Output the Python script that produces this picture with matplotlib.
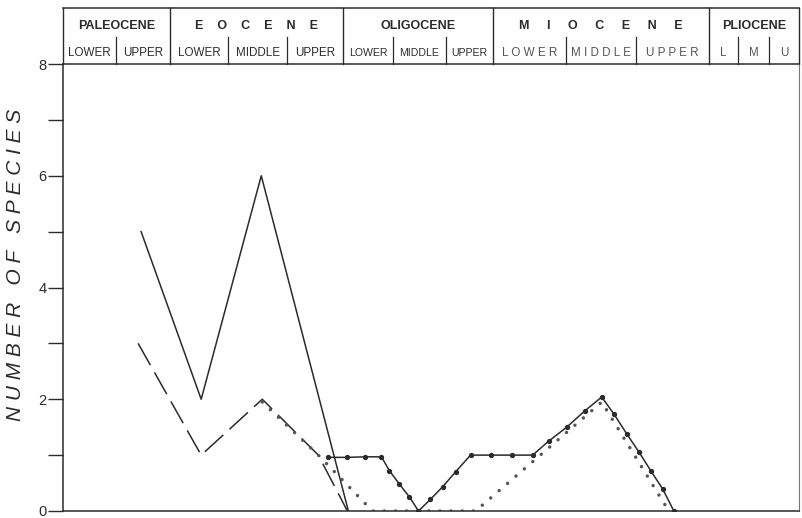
import matplotlib
matplotlib.use("Agg")
import matplotlib.pyplot as plt
from matplotlib.transforms import blended_transform_factory

plt.rcParams['font.family'] = ['Liberation Sans', 'DejaVu Sans']
plt.rcParams['lines.scale_dashes'] = False

# Horizontal position along the time scale (arbitrary drawing units)
stage_edges = [0, 53, 107, 165, 224, 280, 330, 382, 429, 502, 572, 645, 674, 705, 735]
stage_labels = ["LOWER", "UPPER", "LOWER", "MIDDLE", "UPPER", "LOWER", "MIDDLE", "UPPER",
                "L O W E R", "M I D D L E", "U P P E R", "L", "M", "U"]
epoch_edges = [0, 107, 280, 429, 645, 735]
epoch_labels = ["PALEOCENE", "E    O    C    E    N    E", "OLIGOCENE",
                "M     I     O     C     E     N     E", "PLIOCENE"]

# Species counts through time
solid_x = [78, 138, 198, 285]
solid_y = [5, 2, 6, 0]

dashed_x = [75, 138, 199, 255, 284]
dashed_y = [3, 1, 2, 1, 0]

dotted_x = [199, 255, 309, 412, 538, 605]
dotted_y = [1.95, 1.0, 0, 0, 1.95, 0]

dotline_x = [265, 284, 302, 318, 326, 336, 346, 355, 367, 379, 392, 407, 427, 448, 469,
             485, 503, 521, 538, 550, 563, 575, 587, 599, 610]
dotline_y = [0.96, 0.96, 0.97, 0.97, 0.72, 0.48, 0.25, 0, 0.21, 0.43, 0.70, 1.0, 1.0, 1.0, 1.0,
             1.25, 1.5, 1.79, 2.04, 1.74, 1.38, 1.06, 0.72, 0.39, 0.0]

ink = "#2b2b2b"

fig = plt.figure(figsize=(8.02, 5.18), dpi=100)
ax = fig.add_axes([63 / 802, 1 - 511 / 518, 736 / 802, 447 / 518])

ax.plot(solid_x, solid_y, color=ink, lw=1.1)
ax.plot(dashed_x, dashed_y, color=ink, lw=1.1, dashes=(18, 6))
ax.plot(dotted_x, dotted_y, color="#555555", lw=2.5, dashes=(0.01, 8.0),
        dash_capstyle='round', solid_capstyle='round')
ax.plot(dotline_x, dotline_y, color=ink, lw=1.1, marker='o', markersize=2.8,
        markerfacecolor=ink, markeredgecolor=ink)

ax.set_xlim(stage_edges[0], stage_edges[-1])
ax.set_ylim(0, 8)
ax.set_xticks([])
ax.set_yticks([0, 2, 4, 6, 8])
ax.set_yticks([1, 3, 5, 7], minor=True)
ax.tick_params(axis='y', which='both', direction='out', length=11, width=1.0,
               color=ink, labelsize=10.5, labelcolor=ink, pad=1)
for side in ['left', 'bottom', 'top']:
    ax.spines[side].set_color(ink)
    ax.spines[side].set_linewidth(1.1)
ax.spines['right'].set_color("#777777")
ax.spines['right'].set_linewidth(0.8)

ax.text(-0.064, 0.55, "N U M B E R   O F   S P E C I E S", transform=ax.transAxes,
        rotation=90, ha='center', va='center', fontsize=15, style='italic', color=ink)

# Geologic time-scale header above the plot
tr = blended_transform_factory(ax.transData, ax.transAxes)
top = 1.125
row = 1.06
ax.plot([stage_edges[0], stage_edges[-1]], [top, top], transform=tr, color=ink, lw=1.1,
        clip_on=False)
for e in epoch_edges:
    ax.plot([e, e], [1.0, top], transform=tr, color=ink, lw=1.0, clip_on=False)
for e in stage_edges:
    if e not in epoch_edges:
        ax.plot([e, e], [1.0, row], transform=tr, color=ink, lw=0.9, clip_on=False)
for i, lab in enumerate(epoch_labels):
    cx = (epoch_edges[i] + epoch_edges[i + 1]) / 2
    ax.text(cx, 1.085, lab, transform=tr, ha='center', va='center', fontsize=9,
            fontweight='bold', color=ink)
for i, lab in enumerate(stage_labels):
    cx = (stage_edges[i] + stage_edges[i + 1]) / 2
    fs = 7.6 if 5 <= i <= 7 else 8.4
    col = "#555555" if i >= 8 else ink
    ax.text(cx, 1.025, lab, transform=tr, ha='center', va='center', fontsize=fs, color=col)

fig.savefig("out.png", dpi=100)
